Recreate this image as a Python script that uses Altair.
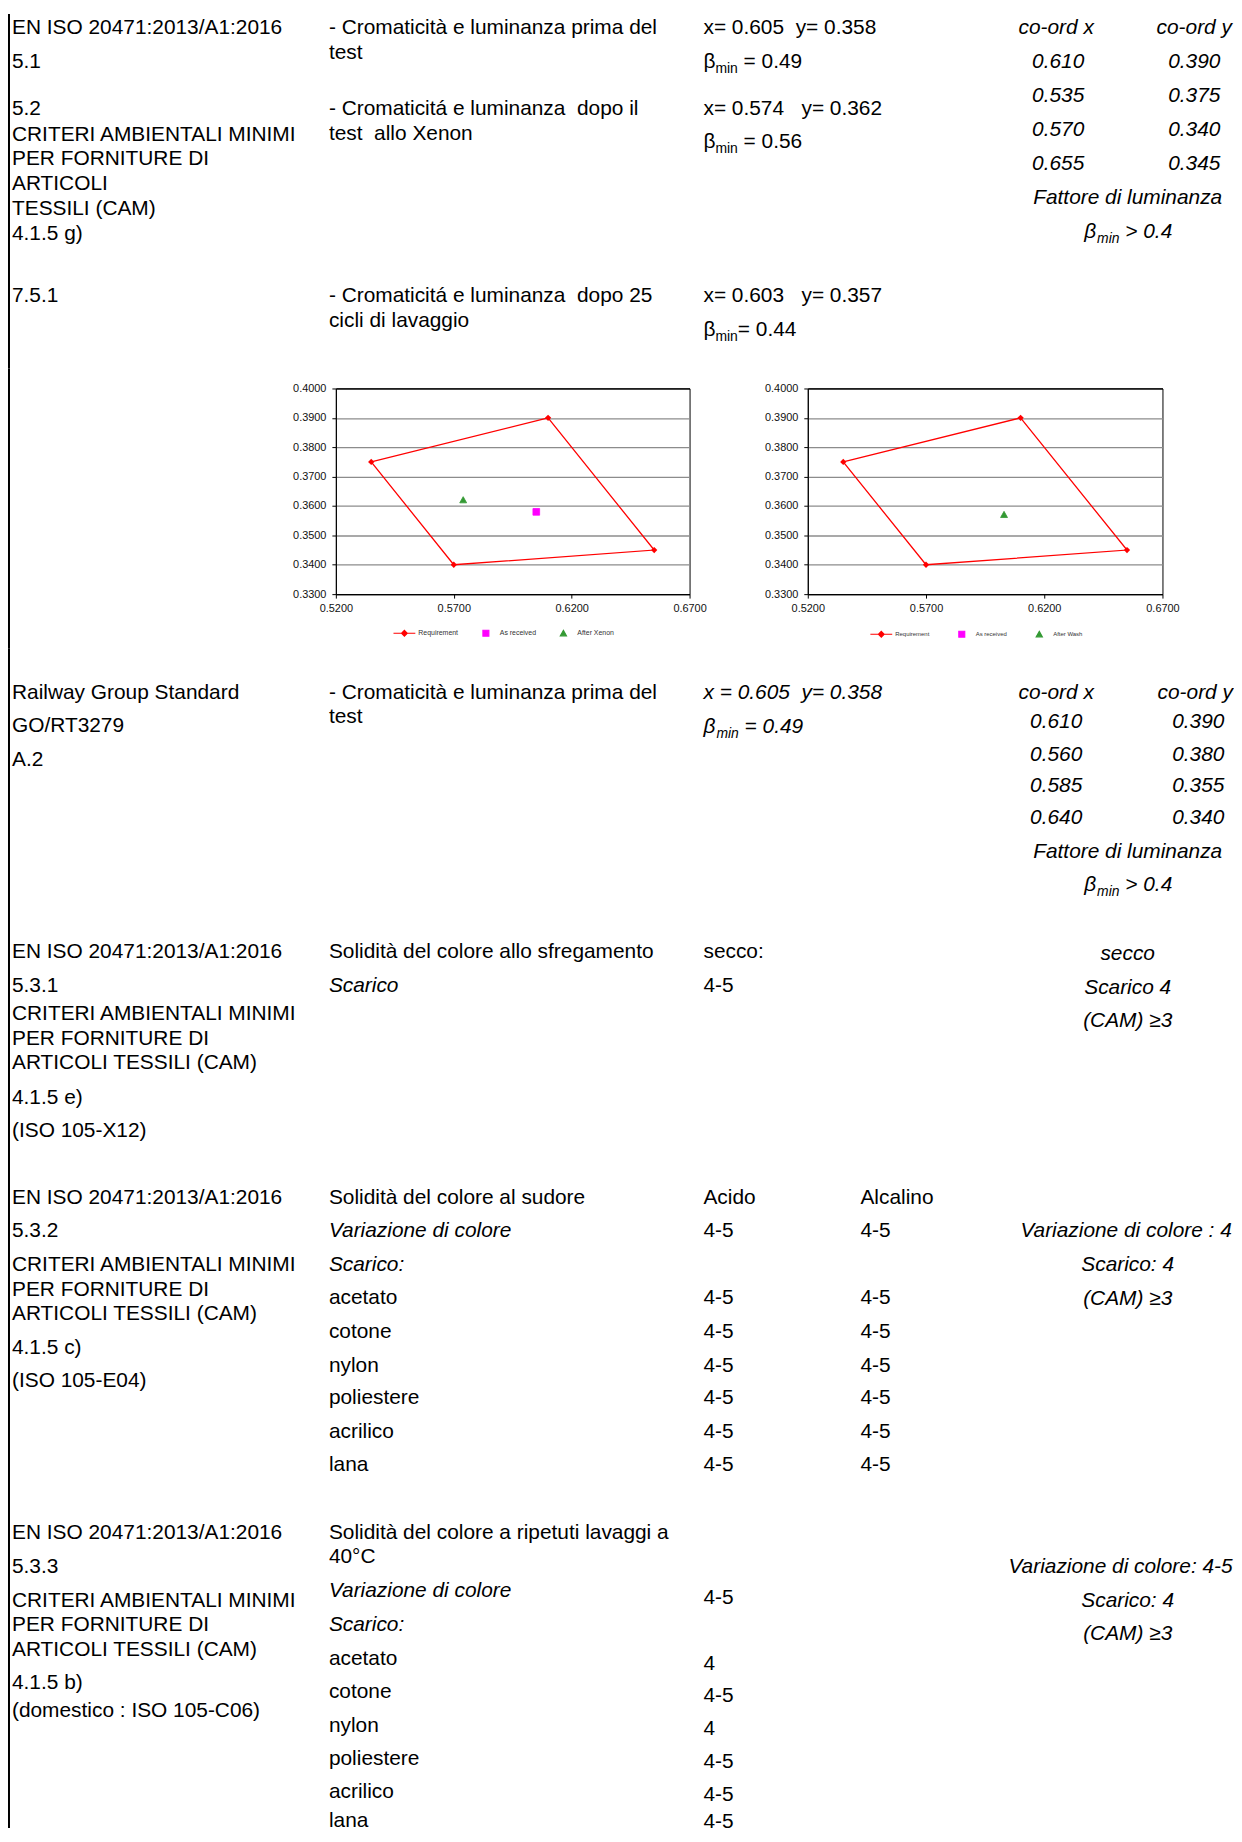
import altair as alt
import pandas as pd

FONT = "Liberation Sans"

# ---------------- chart values ----------------
REQ_X = [0.610, 0.535, 0.570, 0.655]
REQ_Y = [0.390, 0.375, 0.340, 0.345]
LEG1 = ["Requirement", "As received", "After Xenon"]
LEG2 = ["Requirement", "As received", "After Wash"]
PTS1_NAME = ["As received", "After Xenon"]
PTS1_X = [0.605, 0.574]
PTS1_Y = [0.358, 0.362]
PTS2_NAME = ["After Wash"]
PTS2_X = [0.603]
PTS2_Y = [0.357]
X_TICKS = [0.52, 0.57, 0.62, 0.67]
Y_TICKS = [0.33, 0.34, 0.35, 0.36, 0.37, 0.38, 0.39, 0.40]
SERIES_COLORS = ["#ff0000", "#ff00ff", "#339933"]

# ---------------- document text ----------------
STD_EN = "EN ISO 20471:2013/A1:2016"
CAM = "CRITERI AMBIENTALI MINIMI"
FIBERS = ["acetato", "cotone", "nylon", "poliestere", "acrilico", "lana"]

S1_STD = [STD_EN, "5.1", "5.2", CAM, "PER FORNITURE DI", "ARTICOLI", "TESSILI (CAM)", "4.1.5 g)", "7.5.1"]
S1_TEST = ["- Cromaticità e luminanza prima del", "test",
           "- Cromaticitá e luminanza\u00a0 dopo il", "test\u00a0 allo Xenon",
           "- Cromaticitá e luminanza\u00a0 dopo 25", "cicli di lavaggio"]
S1_RES = ["x= 0.605\u00a0 y= 0.358", "x= 0.574\u00a0\u00a0 y= 0.362", "x= 0.603\u00a0\u00a0 y= 0.357"]
S1_BETA = ["= 0.49", "= 0.56", "= 0.44"]
S1_BETA_SPACE = [True, True, False]
CO_HEAD = ["co-ord x", "co-ord y"]
S1_COX = ["0.610", "0.535", "0.570", "0.655"]
S1_COY = ["0.390", "0.375", "0.340", "0.345"]
LUM = "Fattore di luminanza"
LUM_BETA = "> 0.4"

R_STD = ["Railway Group Standard", "GO/RT3279", "A.2"]
R_TEST = ["- Cromaticità e luminanza prima del", "test"]
R_RES = ["x = 0.605\u00a0 y= 0.358"]
R_BETA = "= 0.49"
R_COX = ["0.610", "0.560", "0.585", "0.640"]
R_COY = ["0.390", "0.380", "0.355", "0.340"]

F_STD = [STD_EN, "5.3.1", CAM, "PER FORNITURE DI", "ARTICOLI TESSILI (CAM)", "4.1.5 e)", "(ISO 105-X12)"]
F_TEST = ["Solidità del colore allo sfregamento"]
F_TEST_IT = ["Scarico"]
F_RES = ["secco:", "4-5"]
F_REQ = ["secco", "Scarico 4", "(CAM) ≥3"]

D_STD = [STD_EN, "5.3.2", CAM, "PER FORNITURE DI", "ARTICOLI TESSILI (CAM)", "4.1.5 c)", "(ISO 105-E04)"]
D_TEST = ["Solidità del colore al sudore"]
D_TEST_IT = ["Variazione di colore", "Scarico:"]
D_ACID = ["Acido", "4-5"]
D_ACID_FIB = ["4-5", "4-5", "4-5", "4-5", "4-5", "4-5"]
D_ALC = ["Alcalino", "4-5"]
D_ALC_FIB = ["4-5", "4-5", "4-5", "4-5", "4-5", "4-5"]
D_REQ_VAR = ["Variazione di colore : 4"]
D_REQ = ["Scarico: 4", "(CAM) ≥3"]

L_STD = [STD_EN, "5.3.3", CAM, "PER FORNITURE DI", "ARTICOLI TESSILI (CAM)", "4.1.5 b)", "(domestico : ISO 105-C06)"]
L_TEST = ["Solidità del colore a ripetuti lavaggi a", "40°C"]
L_TEST_IT = ["Variazione di colore", "Scarico:"]
L_VALS = ["4-5", "4", "4-5", "4", "4-5", "4-5", "4-5"]
L_REQ_VAR = ["Variazione di colore: 4-5"]
L_REQ = ["Scarico: 4", "(CAM) ≥3"]

# ---------------- layout (page pixel positions) ----------------
COL1, COL2, COL3, COL4 = 12, 331, 708, 866
RC = 1135
A_TOP, A_H = 8, 357
B_H = 207
C_TOP, C_H = 647, 1187

WID = {"β": 0.572, "m": 0.833, "i": 0.222, "n": 0.556, " ": 0.278, "\u00a0": 0.278,
       "=": 0.584, ">": 0.584, ".": 0.278}


def tw(s, size):
    return sum(WID.get(ch, 0.556) for ch in s) * size


def put(rows, texts, xs, ys, italic=False, align="left"):
    if not isinstance(xs, list):
        xs = [xs] * len(texts)
    for t, x, y in zip(texts, xs, ys):
        rows.append(dict(t=t, x=x, y=y, it=italic, al=align, sz=21, dy=0))


def beta(rows, x, y, suffix, space=True, italic=False, center=False):
    wb, wm = tw("β", 21), tw("min", 14)
    gap = tw(" ", 21) if space else 0.0
    ws = tw(suffix, 21)
    if center:
        x = x - (wb + wm + gap + ws) / 2
    k = 1 if italic else 0
    rows.append(dict(t="β", x=x, y=y, it=italic, al="left", sz=21, dy=0))
    rows.append(dict(t="min", x=x + wb + k, y=y, it=italic, al="left", sz=14, dy=5))
    rows.append(dict(t=suffix, x=x + wb + wm + gap + k, y=y, it=italic, al="left", sz=21, dy=0))


A = []
put(A, S1_STD, COL1, [28.5, 62.5, 110, 136, 160.5, 185, 210, 236, 298])
put(A, S1_TEST, COL2, [28.5, 53.5, 110, 134.5, 298, 323.5])
put(A, S1_RES, COL3, [28.5, 110, 298])
for suf, sp, yy in zip(S1_BETA, S1_BETA_SPACE, [62.5, 143, 332]):
    beta(A, COL3, yy, suf, sp)
put(A, CO_HEAD, [1063, 1202], [28.5, 28.5], True, "center")
put(A, S1_COX, 1065, [62, 96.5, 131, 165], True, "center")
put(A, S1_COY, 1202, [62, 96.5, 131, 165], True, "center")
put(A, [LUM], RC, [199], True, "center")
beta(A, RC, 233.5, LUM_BETA, True, True, True)

C = []
put(C, R_STD, COL1, [697.5, 730.5, 764.5])
put(C, R_TEST, COL2, [697.5, 721.5])
put(C, R_RES, COL3, [697.5], True)
beta(C, COL3, 731.5, R_BETA, True, True)
put(C, CO_HEAD, [1063, 1203], [697.5, 697.5], True, "center")
put(C, R_COX, 1063, [727, 760, 791.5, 823.5], True, "center")
put(C, R_COY, 1206, [727, 760, 791.5, 823.5], True, "center")
put(C, [LUM], RC, [857.5], True, "center")
beta(C, RC, 890.5, LUM_BETA, True, True, True)

put(C, F_STD, COL1, [958.5, 992.5, 1021, 1045.5, 1070, 1105.5, 1138.5])
put(C, F_TEST, COL2, [958.5])
put(C, F_TEST_IT, COL2, [992.5], True)
put(C, F_RES, COL3, [958.5, 992.5])
put(C, F_REQ, RC, [960, 994, 1028], True, "center")

D_FIB_Y = [1306.5, 1340.5, 1374.5, 1407.5, 1441.5, 1474.5]
put(C, D_STD, COL1, [1205.5, 1239.5, 1273.5, 1298.5, 1323, 1357, 1390])
put(C, D_TEST, COL2, [1205.5])
put(C, D_TEST_IT, COL2, [1239.5, 1273.5], True)
put(C, FIBERS, COL2, D_FIB_Y)
put(C, D_ACID, COL3, [1205.5, 1239.5])
put(C, D_ACID_FIB, COL3, D_FIB_Y)
put(C, D_ALC, COL4, [1205.5, 1239.5])
put(C, D_ALC_FIB, COL4, D_FIB_Y)
put(C, D_REQ_VAR, 1027, [1239.5], True)
put(C, D_REQ, RC, [1273.5, 1307.5], True, "center")

put(C, L_STD, COL1, [1543, 1577, 1611, 1635.5, 1660.5, 1694.5, 1722.5])
put(C, L_TEST, COL2, [1543, 1567.5])
put(C, L_TEST_IT, COL2, [1601.5, 1635.5], True)
put(C, FIBERS, COL2, [1670, 1703, 1737, 1771, 1803.5, 1833])
put(C, L_VALS, COL3, [1608.5, 1674.5, 1707.5, 1740.5, 1773.5, 1806.5, 1833.5])
put(C, L_REQ_VAR, 1015, [1577], True)
put(C, L_REQ, RC, [1611, 1645], True, "center")

NO_FRAME = alt.ViewBackground(stroke="transparent", strokeWidth=0)


def text_section(rows, top, height):
    df = pd.DataFrame(rows)
    xs = alt.Scale(domain=[8, 8 + 1234], range=[0, 1234], nice=False, zero=False)
    ys = alt.Scale(domain=[top, top + height], range=[0, height], nice=False, zero=False)
    bar = alt.Chart(pd.DataFrame({"a": [0]})).mark_rect(color="black").encode(
        x=alt.value(0), x2=alt.value(2), y=alt.value(0), y2=alt.value(height))
    layers = [bar]
    for (it, al, sz, dy), g in df.groupby(["it", "al", "sz", "dy"]):
        layers.append(
            alt.Chart(g.reset_index(drop=True)).mark_text(
                align=al, baseline="alphabetic", font=FONT, fontSize=int(sz),
                fontStyle="italic" if it else "normal", dy=int(dy), color="black", clip=True
            ).encode(
                x=alt.X("x:Q", scale=xs, axis=None),
                y=alt.Y("y:Q", scale=ys, axis=None),
                text="t:N",
            )
        )
    return alt.layer(*layers).properties(width=1234, height=height, view=NO_FRAME)


# legend symbol paths (unit box -1..1)
P_REQ = "M-1,0H1M0,-0.26L0.26,0L0,0.26L-0.26,0Z"
P_SQ = "M-0.27,-0.27H0.27V0.27H-0.27Z"
P_TRI = "M0,-0.28L0.28,0.22L-0.28,0.22Z"


def xy_chart(pnames, px, py, legs, width, lx, ly, lfs, cpad):
    poly = pd.DataFrame({"x": REQ_X + [REQ_X[0]], "y": REQ_Y + [REQ_Y[0]], "o": list(range(len(REQ_X) + 1))})
    verts = pd.DataFrame({"x": REQ_X, "y": REQ_Y})
    pts = pd.DataFrame({"x": px, "y": py, "s": pnames})
    xs = alt.Scale(domain=[0.52, 0.67], nice=False, zero=False)
    ys = alt.Scale(domain=[0.33, 0.40], nice=False, zero=False)
    common = dict(title=None, format=".4f", labelFont=FONT, labelFontSize=11, labelColor="#111",
                  labelFlush=False, labelOverlap=False, tickColor="black", tickSize=4,
                  domainColor="black", domainWidth=1)
    xax = alt.Axis(values=X_TICKS, tickCount=len(X_TICKS) + 4, grid=False, labelPadding=4, **common)
    yax = alt.Axis(values=Y_TICKS, tickCount=len(Y_TICKS) + 4, grid=True, labelPadding=6,
                   gridColor={"condition": {"test": "datum.value > 0.3995 || datum.value < 0.3305", "value": "black"},
                              "value": "#8c8c8c"},
                   gridWidth=1.3, **common)
    line = alt.Chart(poly).mark_line(color="#ff0000", strokeWidth=1.3).encode(
        x=alt.X("x:Q", scale=xs, axis=xax), y=alt.Y("y:Q", scale=ys, axis=yax), order="o:Q")
    vert = alt.Chart(verts).mark_point(shape="diamond", filled=True, color="#ff0000", size=40, opacity=1).encode(
        x="x:Q", y="y:Q")
    leg = alt.Legend(title=None, orient="none", legendX=lx, legendY=ly, direction="horizontal",
                     symbolSize=484, symbolStrokeWidth=1.2, labelFont=FONT, labelFontSize=lfs,
                     labelColor="#333", labelOffset=2, columnPadding=cpad, padding=0)
    pt = alt.Chart(pts).mark_point(filled=True, opacity=1, size=620, strokeWidth=0.8).encode(
        x="x:Q", y="y:Q",
        color=alt.Color("s:N", scale=alt.Scale(domain=legs, range=SERIES_COLORS), legend=leg),
        stroke=alt.Stroke("s:N", scale=alt.Scale(domain=legs, range=SERIES_COLORS), legend=leg),
        shape=alt.Shape("s:N", scale=alt.Scale(domain=legs, range=[P_REQ, P_SQ, P_TRI]), legend=leg),
    )
    return alt.layer(line, vert, pt).properties(
        width=width, height=B_H, view=alt.ViewBackground(stroke="black", strokeWidth=1))


spacer = alt.Chart(pd.DataFrame({"a": [0]})).mark_rect(color="black").encode(
    x=alt.value(0), x2=alt.value(2), y=alt.value(-20), y2=alt.value(B_H + 55)
).properties(width=211, height=B_H, view=NO_FRAME)

c1 = xy_chart(PTS1_NAME, PTS1_X, PTS1_Y, LEG1, 356, 57, 234, 7, 15)
c2 = xy_chart(PTS2_NAME, PTS2_X, PTS2_Y, LEG2, 357, 62, 235, 6, 20)

mid = alt.hconcat(spacer, c1, c2, spacing=119, bounds="flush").resolve_scale(
    color="independent", shape="independent", stroke="independent", x="independent", y="independent"
).resolve_legend(color="independent", shape="independent", stroke="independent")

top = text_section(A, A_TOP, A_H)
bottom = text_section(C, C_TOP, C_H)

chart = alt.vconcat(top, mid, bottom, spacing=0).properties(padding=0).configure(font=FONT)

chart.save("out.html", embed_options={"renderer": "svg", "actions": False})
